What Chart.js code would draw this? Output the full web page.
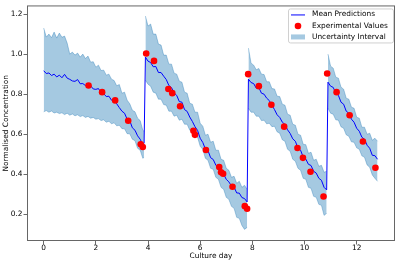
<!DOCTYPE html>
<html>
<head>
<meta charset="utf-8">
<script src="https://cdn.jsdelivr.net/npm/chart.js@4.4.0/dist/chart.umd.min.js"></script>
<style>
html, body { margin: 0; padding: 0; background: #fff; }
</style>
</head>
<body>
<canvas id="myChart" width="399" height="263"></canvas>
<script>
var ctx = document.getElementById('myChart').getContext('2d');

var xTicks = [0, 2, 4, 6, 8, 10, 12];
var yTicks = [0.2, 0.4, 0.6, 0.8, 1.0, 1.2];

// culture 1 (day 0 to feed)
var seg1Days = [0, 0.1, 0.2, 0.3, 0.4, 0.5, 0.6, 0.7, 0.8, 0.9, 1.0, 1.1, 1.2, 1.3, 1.4, 1.5, 1.6, 1.7, 1.8, 1.9,
                2.0, 2.1, 2.2, 2.3, 2.4, 2.5, 2.6, 2.7, 2.8, 2.9, 3.0, 3.1, 3.2, 3.3, 3.4, 3.5, 3.6, 3.7, 3.8, 3.85];
var seg1Mean = [0.917, 0.903, 0.906, 0.893, 0.9, 0.886, 0.895, 0.882, 0.899, 0.88, 0.874, 0.866, 0.864, 0.873, 0.852, 0.853, 0.843, 0.84, 0.842, 0.826,
                0.824, 0.828, 0.805, 0.803, 0.788, 0.79, 0.77, 0.771, 0.752, 0.733, 0.715, 0.705, 0.675, 0.668, 0.632, 0.62, 0.592, 0.575, 0.548, 0.556];
var seg1Upper = [1.13, 1.085, 1.1, 1.082, 1.11, 1.08, 1.105, 1.084, 1.09, 1.055, 1.0, 1.01, 0.995, 1.005, 0.985, 1.0, 0.978, 0.99, 0.96, 0.962,
                 0.935, 0.945, 0.918, 0.92, 0.895, 0.9, 0.875, 0.868, 0.842, 0.848, 0.805, 0.81, 0.77, 0.752, 0.72, 0.712, 0.68, 0.668, 0.62, 0.615];
var seg1Lower = [0.712, 0.718, 0.71, 0.716, 0.706, 0.71, 0.703, 0.707, 0.698, 0.705, 0.695, 0.701, 0.692, 0.697, 0.688, 0.693, 0.684, 0.689, 0.68, 0.684,
                 0.675, 0.678, 0.668, 0.672, 0.66, 0.665, 0.652, 0.657, 0.642, 0.645, 0.628, 0.627, 0.603, 0.602, 0.575, 0.568, 0.53, 0.52, 0.48, 0.485];

// culture 2
var seg2Days = [3.9, 4.0, 4.1, 4.2, 4.3, 4.4, 4.5, 4.6, 4.7, 4.8, 4.9, 5.0, 5.1, 5.2, 5.3, 5.4, 5.5, 5.6, 5.7, 5.8,
                5.9, 6.0, 6.1, 6.2, 6.3, 6.4, 6.5, 6.6, 6.7, 6.8, 6.9, 7.0, 7.1, 7.2, 7.3, 7.4, 7.5, 7.6, 7.7, 7.8];
var seg2Mean = [0.985, 0.965, 0.958, 0.937, 0.938, 0.908, 0.908, 0.89, 0.873, 0.843, 0.833, 0.806, 0.794, 0.763, 0.76, 0.723, 0.714, 0.686, 0.664, 0.638,
                0.619, 0.58, 0.559, 0.526, 0.518, 0.483, 0.474, 0.446, 0.432, 0.405, 0.4, 0.375, 0.362, 0.342, 0.336, 0.307, 0.306, 0.284, 0.279, 0.262];
var seg2Upper = [1.19, 1.14, 1.15, 1.1, 1.1, 1.05, 1.045, 0.995, 0.995, 0.95, 0.95, 0.905, 0.9, 0.865, 0.86, 0.81, 0.805, 0.755, 0.75, 0.71,
                 0.71, 0.655, 0.64, 0.595, 0.6, 0.56, 0.565, 0.52, 0.52, 0.475, 0.47, 0.43, 0.42, 0.385, 0.39, 0.355, 0.365, 0.335, 0.345, 0.325];
var seg2Lower = [0.87, 0.85, 0.84, 0.81, 0.805, 0.775, 0.775, 0.748, 0.745, 0.715, 0.715, 0.69, 0.695, 0.67, 0.675, 0.65, 0.65, 0.62, 0.62, 0.59,
                 0.585, 0.54, 0.525, 0.48, 0.47, 0.43, 0.425, 0.385, 0.375, 0.335, 0.325, 0.285, 0.275, 0.24, 0.23, 0.185, 0.18, 0.145, 0.125, 0.135];

// culture 3
var seg3Days = [7.85, 7.95, 8.05, 8.15, 8.25, 8.35, 8.45, 8.55, 8.65, 8.75, 8.85, 8.95, 9.05, 9.15, 9.25, 9.35,
                9.45, 9.55, 9.65, 9.75, 9.85, 9.95, 10.05, 10.15, 10.25, 10.35, 10.45, 10.55, 10.65, 10.75, 10.85];
var seg3Mean = [0.875, 0.858, 0.853, 0.83, 0.833, 0.805, 0.8, 0.78, 0.768, 0.745, 0.723, 0.697, 0.684, 0.66, 0.649, 0.622,
                0.604, 0.577, 0.565, 0.53, 0.52, 0.486, 0.476, 0.45, 0.444, 0.415, 0.406, 0.38, 0.37, 0.335, 0.322];
var seg3Upper = [1.03, 0.955, 0.945, 0.922, 0.928, 0.9, 0.898, 0.862, 0.862, 0.828, 0.826, 0.79, 0.788, 0.75, 0.745, 0.7,
                 0.695, 0.65, 0.645, 0.6, 0.595, 0.55, 0.548, 0.505, 0.51, 0.47, 0.475, 0.44, 0.445, 0.41, 0.415];
var seg3Lower = [0.73, 0.71, 0.71, 0.69, 0.69, 0.668, 0.67, 0.652, 0.655, 0.638, 0.64, 0.612, 0.605, 0.572, 0.565, 0.525,
                 0.515, 0.475, 0.465, 0.43, 0.42, 0.38, 0.375, 0.335, 0.33, 0.29, 0.285, 0.25, 0.245, 0.195, 0.205];

// culture 4
var seg4Days = [10.9, 11.0, 11.1, 11.2, 11.3, 11.4, 11.5, 11.6, 11.7, 11.8, 11.9, 12.0, 12.1, 12.2, 12.3, 12.4, 12.5, 12.6, 12.7, 12.8];
var seg4Mean = [0.86, 0.84, 0.834, 0.805, 0.794, 0.76, 0.75, 0.715, 0.705, 0.675, 0.66, 0.63, 0.615, 0.585, 0.575, 0.545, 0.53, 0.495, 0.493, 0.475];
var seg4Upper = [1.0, 0.94, 0.93, 0.885, 0.88, 0.835, 0.825, 0.78, 0.775, 0.735, 0.73, 0.685, 0.68, 0.635, 0.635, 0.6, 0.605, 0.57, 0.58, 0.565];
var seg4Lower = [0.73, 0.705, 0.7, 0.672, 0.67, 0.637, 0.63, 0.597, 0.59, 0.562, 0.56, 0.532, 0.525, 0.492, 0.485, 0.447, 0.435, 0.397, 0.38, 0.365];

// measured samples
var expDays = [1.72, 2.24, 2.74, 3.24, 3.72, 3.8,
               3.93, 4.23, 4.78, 4.93, 5.23, 5.74, 5.8, 6.22, 6.73, 6.8, 6.88, 7.24, 7.71, 7.8,
               7.84, 8.25, 8.73, 9.22, 9.73, 9.94, 10.23, 10.73,
               10.87, 11.23, 11.73, 12.24, 12.72];
var expValues = [0.843, 0.81, 0.769, 0.667, 0.55, 0.536,
                 1.003, 0.966, 0.826, 0.805, 0.74, 0.617, 0.597, 0.521, 0.436, 0.41, 0.403, 0.338, 0.241, 0.228,
                 0.9, 0.84, 0.747, 0.638, 0.531, 0.482, 0.413, 0.289,
                 0.903, 0.81, 0.695, 0.564, 0.433];

var bandFill = 'rgba(31, 119, 180, 0.4)';
var bandEdge = 'rgba(31, 119, 180, 0.45)';
var fontFamily = "'DejaVu Sans', sans-serif";

function toPoints(days, values) {
    var pts = [];
    for (var i = 0; i < days.length; i++) {
        pts.push({x: days[i], y: values[i]});
    }
    return pts;
}

var segments = [
    {days: seg1Days, mean: seg1Mean, upper: seg1Upper, lower: seg1Lower},
    {days: seg2Days, mean: seg2Mean, upper: seg2Upper, lower: seg2Lower},
    {days: seg3Days, mean: seg3Mean, upper: seg3Upper, lower: seg3Lower},
    {days: seg4Days, mean: seg4Mean, upper: seg4Upper, lower: seg4Lower}
];

var meanPoints = [];
segments.forEach(function(s) {
    meanPoints = meanPoints.concat(toPoints(s.days, s.mean));
});

var datasets = [
    {
        label: 'Mean Predictions',
        data: meanPoints,
        borderColor: '#0000ff',
        borderWidth: 1,
        pointRadius: 0,
        fill: false,
        order: 1
    },
    {
        label: 'Experimental Values',
        data: toPoints(expDays, expValues),
        showLine: false,
        pointRadius: 3.3,
        pointBackgroundColor: '#ff0000',
        pointBorderWidth: 0,
        order: 0
    }
];

segments.forEach(function(s) {
    datasets.push({
        label: 'Uncertainty Interval',
        data: toPoints(s.days, s.upper),
        borderColor: bandEdge,
        borderWidth: 0.8,
        backgroundColor: bandFill,
        pointRadius: 0,
        fill: '+1',
        order: 2
    });
    datasets.push({
        label: 'band lower',
        data: toPoints(s.days, s.lower),
        borderColor: bandEdge,
        borderWidth: 0.8,
        pointRadius: 0,
        fill: false,
        order: 2
    });
});

// box round the axes, like the matplotlib spines
var frame = {
    id: 'frame',
    afterDatasetsDraw: function(chart) {
        var a = chart.chartArea, c = chart.ctx;
        c.save();
        c.strokeStyle = '#666';
        c.lineWidth = 1;
        c.strokeRect(a.left + 0.5, a.top + 0.5, a.right - a.left - 1, a.bottom - a.top - 1);
        c.restore();
    }
};

// legend inside the upper right corner
var legendBox = {
    id: 'legendBox',
    afterDraw: function(chart) {
        var a = chart.chartArea, c = chart.ctx;
        var w = 105, h = 34;
        var left = a.right - w - 2, top = a.top + 3;
        c.save();
        c.beginPath();
        c.roundRect(left + 0.5, top + 0.5, w, h, 2);
        c.fillStyle = 'rgba(255,255,255,0.85)';
        c.fill();
        c.strokeStyle = '#d0d0d0';
        c.lineWidth = 1;
        c.stroke();

        var rows = [top + 6, top + 17.5, top + 28.5];
        var hx = left + 3, hw = 14;

        c.strokeStyle = '#0000ff';
        c.lineWidth = 1;
        c.beginPath();
        c.moveTo(hx, rows[0] + 0.5);
        c.lineTo(hx + hw, rows[0] + 0.5);
        c.stroke();

        c.fillStyle = '#ff0000';
        c.beginPath();
        c.arc(hx + hw / 2, rows[1], 3.3, 0, Math.PI * 2);
        c.fill();

        c.fillStyle = bandFill;
        c.fillRect(hx, rows[2] - 2.5, hw, 5);

        c.fillStyle = '#000';
        c.font = '7.4px ' + fontFamily;
        c.textBaseline = 'middle';
        c.fillText('Mean Predictions', left + 24, rows[0]);
        c.fillText('Experimental Values', left + 24, rows[1]);
        c.fillText('Uncertainty Interval', left + 24, rows[2]);
        c.restore();
    }
};

var chart = new Chart(ctx, {
    type: 'line',
    data: {datasets: datasets},
    plugins: [frame, legendBox],
    options: {
        responsive: false,
        animation: false,
        devicePixelRatio: 1,
        layout: {padding: {left: 0, top: 2, right: 4, bottom: 0}},
        plugins: {
            legend: {display: false},
            tooltip: {enabled: false}
        },
        scales: {
            x: {
                type: 'linear',
                min: -0.64,
                max: 13.47,
                afterBuildTicks: function(scale) {
                    scale.ticks = xTicks.map(function(v) { return {value: v}; });
                },
                afterFit: function(scale) { scale.height = 22; },
                border: {display: false},
                grid: {drawOnChartArea: false, drawTicks: true, tickLength: 3.5, color: '#444', lineWidth: 0.8},
                ticks: {
                    color: '#000',
                    padding: 0,
                    maxRotation: 0,
                    font: {family: fontFamily, size: 7.4, lineHeight: 1},
                    callback: function(v) { return String(v); }
                },
                title: {
                    display: true,
                    text: 'Culture day',
                    color: '#000',
                    padding: {top: 0, bottom: 2.5},
                    font: {family: fontFamily, size: 7.4}
                }
            },
            y: {
                type: 'linear',
                min: 0.067,
                max: 1.243,
                afterBuildTicks: function(scale) {
                    scale.ticks = yTicks.map(function(v) { return {value: v}; });
                },
                afterFit: function(scale) { scale.width = 27; },
                border: {display: false},
                grid: {drawOnChartArea: false, drawTicks: true, tickLength: 3.5, color: '#444', lineWidth: 0.8},
                ticks: {
                    color: '#000',
                    padding: 1,
                    font: {family: fontFamily, size: 7.4},
                    callback: function(v) { return v.toFixed(1); }
                },
                title: {
                    display: true,
                    text: 'Normalised Concentration',
                    color: '#000',
                    padding: {top: 2, bottom: 0},
                    font: {family: fontFamily, size: 7.4}
                }
            }
        }
    }
});
</script>
</body>
</html>
